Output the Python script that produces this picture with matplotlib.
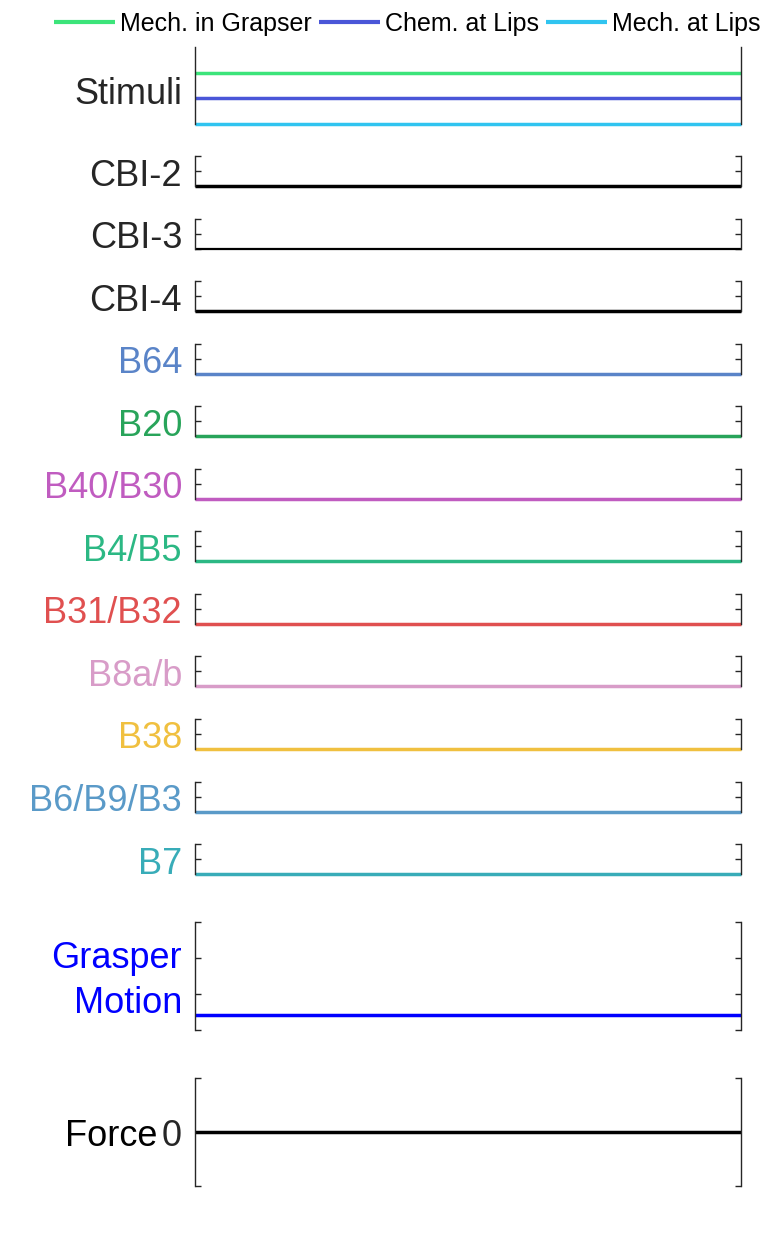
import matplotlib
matplotlib.use("Agg")
import matplotlib.pyplot as plt
import matplotlib.transforms as mtransforms

# time axis and traces (all flat in this figure)
t = [0, 10]

stim_names = ["Mech. in Grapser", "Chem. at Lips", "Mech. at Lips"]
stim_levels = [3, 2, 1]
stim_colors = ["#3ce47a", "#4a56d8", "#30c4f0"]

neuron_names = ["CBI-2", "CBI-3", "CBI-4", "B64", "B20", "B40/B30", "B4/B5",
                "B31/B32", "B8a/b", "B38", "B6/B9/B3", "B7"]
neuron_values = [0, 0, 0, 0, 0, 0, 0, 0, 0, 0, 0, 0]
neuron_colors = ["#000000", "#000000", "#000000", "#5a84c8", "#28a45a", "#c05cc0",
                 "#2cb884", "#e05050", "#d89cc8", "#f0c040", "#5a9ac8", "#38acb8"]
label_colors = ["#262626", "#262626", "#262626"] + neuron_colors[3:]

grasper_value = 0.42
force_value = 0

plt.rcParams["font.family"] = ["Liberation Sans", "DejaVu Sans"]
AX_COL = "#262626"
FS = 26

fig = plt.figure(figsize=(7.81, 12.5), dpi=100)
W, H = 781.0, 1250.0
left = 195 / W
width = 546 / W


def make_ax(top_px, bottom_px):
    ax = fig.add_axes([left, 1 - bottom_px / H, width, (bottom_px - top_px) / H])
    ax.spines["top"].set_visible(False)
    ax.spines["bottom"].set_visible(False)
    for s in ("left", "right"):
        ax.spines[s].set_color(AX_COL)
        ax.spines[s].set_linewidth(1.0)
    ax.set_xticks([])
    ax.set_xlim(t[0], t[-1])
    ax.tick_params(axis="y", direction="in", left=True, right=True, length=4,
                   width=1.0, color=AX_COL, labelcolor=AX_COL, labelsize=FS)
    return ax


def side_label(ax, text, color, xoff_px=13, dy_px=-5, ls=1.2):
    # offset in pixels from the left spine, vertically near the axes middle
    tr = ax.transAxes + mtransforms.ScaledTranslation(-xoff_px / 100, dy_px / 100, fig.dpi_scale_trans)
    ax.text(0, 0.5, text, transform=tr, ha="right", va="center",
            fontsize=FS, color=color, linespacing=ls, multialignment="right")


# stimuli panel
ax = make_ax(47, 124)
for lvl, c, n in zip(stim_levels, stim_colors, stim_names):
    ax.plot(t, [lvl, lvl], color=c, lw=2.5, clip_on=False, label=n, solid_capstyle="butt")
ax.set_ylim(1, 4)
ax.set_yticks([])
side_label(ax, "Stimuli", AX_COL, dy_px=-9)
stim_ax = ax

# neuron panels
for i, (name, val) in enumerate(zip(neuron_names, neuron_values)):
    y_line = 186 + i * 62.55
    ax = make_ax(y_line - 30, y_line)
    lw = 1.6 if name == "CBI-3" else 2.5
    ax.plot(t, [val, val], color=neuron_colors[i], lw=lw, clip_on=False, solid_capstyle="butt")
    ax.set_ylim(0, 1)
    ax.set_yticks([0, 0.5, 1])
    ax.set_yticklabels([])
    side_label(ax, name, label_colors[i])

# grasper motion
ax = make_ax(922, 1030)
ax.plot(t, [grasper_value, grasper_value], color="#0000ff", lw=2.5, solid_capstyle="butt")
ax.set_ylim(0, 3)
ax.set_yticks([0, 1, 2, 3])
ax.set_yticklabels([])
side_label(ax, "Grasper\nMotion", "#0000ff", dy_px=-5, ls=1.4)

# force
ax = make_ax(1078, 1186)
ax.plot(t, [force_value, force_value], color="black", lw=2.5, solid_capstyle="butt")
ax.set_ylim(-1, 1)
ax.set_yticks([-1, 0, 1])
ax.set_yticklabels(["", "0", ""])
ax.tick_params(axis="y", pad=9.5)
side_label(ax, "Force", "black", xoff_px=38, dy_px=-5)

handles, labels = stim_ax.get_legend_handles_labels()
leg = fig.legend(handles, labels, loc="center", bbox_to_anchor=(407 / W, 1 - 24 / H),
                 ncol=3, frameon=False, handlelength=2.44, handletextpad=0.2,
                 columnspacing=0.28, borderpad=0, prop={"size": 18})
for h in leg.get_lines():
    h.set_linewidth(3)

fig.savefig("out.png", dpi=100)
